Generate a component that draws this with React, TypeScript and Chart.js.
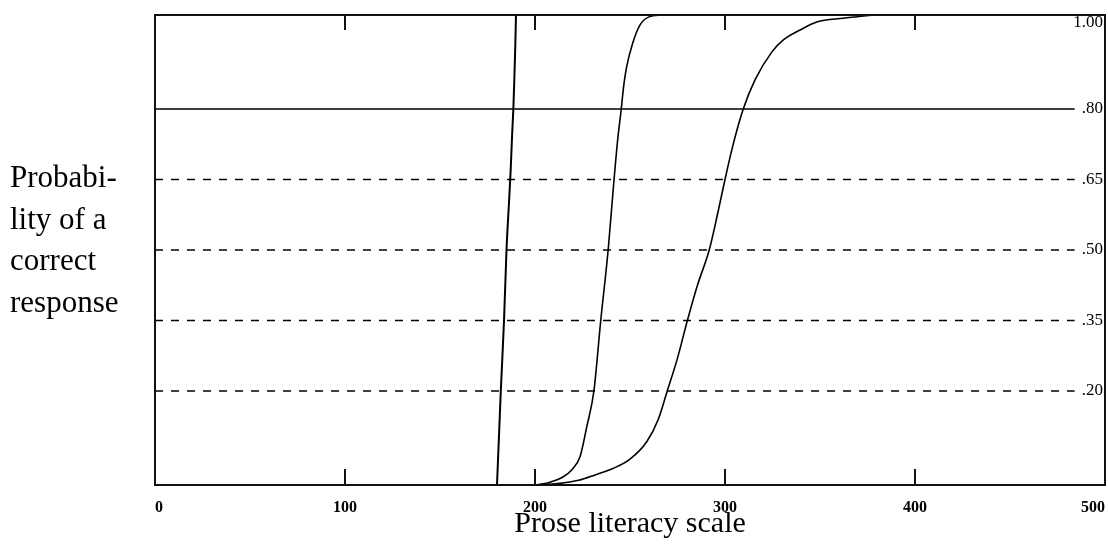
import React, { useEffect, useRef } from "react";
import { Chart, registerables } from "chart.js";

Chart.register(...registerables);

// ---- data ----
const xTickValues = [0, 100, 200, 300, 400, 500];
const innerTickValues = [100, 200, 300, 400];
const levelValues = [1.0, 0.8, 0.65, 0.5, 0.35, 0.2];
const levelLabels = ["1.00", ".80", ".65", ".50", ".35", ".20"];
const solidLevels = [0.8];
const dashedLevels = [0.65, 0.5, 0.35, 0.2];
const levelLineX = [0, 484];
const yTitleLines = ["Probabi-", "lity of a", "correct", "response"];
const xTitle = "Prose literacy scale";

// Item curves: proficiency scale score vs probability of a correct response
const itemAScale = [180, 180.5, 181.2, 182, 183.7, 185, 186.3, 187.2, 187.9, 188.6, 189.1, 189.6, 190];
const itemAProb = [0, 0.05, 0.12, 0.2, 0.35, 0.5, 0.6, 0.67, 0.74, 0.8, 0.86, 0.93, 1.0];

const itemBScale = [201, 208, 214.7, 219.3, 223.7, 227.2, 231, 234.6, 238.5, 241.6, 243.5, 245.4, 246.5, 248.2, 251.4, 255.3, 260, 267];
const itemBProb = [0, 0.006, 0.017, 0.032, 0.06, 0.123, 0.2, 0.35, 0.5, 0.65, 0.734, 0.8, 0.843, 0.889, 0.94, 0.979, 0.996, 1.0];

const itemCScale = [201, 212, 223, 232, 241, 250, 258.8, 264.9, 269.6, 275, 280.2, 285.5, 291.7, 296, 300, 304, 309.6, 315.8, 324.6, 330.7, 339.5, 348.3, 362.3, 378];
const itemCProb = [0, 0.003, 0.01, 0.022, 0.035, 0.055, 0.092, 0.14, 0.2, 0.27, 0.35, 0.425, 0.5, 0.575, 0.65, 0.72, 0.8, 0.862, 0.921, 0.947, 0.968, 0.985, 0.993, 1.0];

const SERIF = "'Liberation Serif', 'Times New Roman', serif";

function toPoints(xs: number[], ys: number[]) {
  return xs.map((x, i) => ({ x, y: ys[i] }));
}

function levelLine(v: number) {
  return levelLineX.map((x) => ({ x, y: v }));
}

export default function App() {
  const ref = useRef<HTMLCanvasElement>(null);

  useEffect(() => {
    const canvas = ref.current;
    if (!canvas) return;

    const framePlugin = {
      id: "frame",
      afterDatasetsDraw(chart: any) {
        const { ctx, chartArea: a, scales } = chart;
        const xs = scales.x;
        const ys = scales.y;
        ctx.save();
        ctx.strokeStyle = "#111";
        ctx.lineWidth = 2;
        ctx.strokeRect(a.left, a.top, a.right - a.left, a.bottom - a.top);
        ctx.beginPath();
        for (const v of innerTickValues) {
          const px = Math.round(xs.getPixelForValue(v));
          ctx.moveTo(px, a.top);
          ctx.lineTo(px, a.top + 15);
          ctx.moveTo(px, a.bottom);
          ctx.lineTo(px, a.bottom - 16);
        }
        ctx.stroke();

        ctx.fillStyle = "#000";
        ctx.font = `17px ${SERIF}`;
        ctx.textAlign = "right";
        ctx.textBaseline = "middle";
        levelValues.forEach((v, i) => {
          const py = Math.max(ys.getPixelForValue(v), a.top + 8);
          ctx.fillText(levelLabels[i], a.right - 2, py);
        });

        ctx.font = `31px ${SERIF}`;
        ctx.textAlign = "left";
        ctx.textBaseline = "alphabetic";
        yTitleLines.forEach((t, i) => ctx.fillText(t, 10, 187 + i * 41.7));
        ctx.restore();
      },
    };

    const datasets: any[] = [];
    solidLevels.forEach((v) =>
      datasets.push({
        data: levelLine(v),
        borderColor: "#000",
        borderWidth: 1.5,
        pointRadius: 0,
        showLine: true,
        order: 5,
      })
    );
    dashedLevels.forEach((v) =>
      datasets.push({
        data: levelLine(v),
        borderColor: "#000",
        borderWidth: 1.5,
        borderDash: [8, 8],
        pointRadius: 0,
        showLine: true,
        order: 5,
      })
    );
    datasets.push({
      data: toPoints(itemAScale, itemAProb),
      borderColor: "#000",
      borderWidth: 2,
      pointRadius: 0,
      showLine: true,
      cubicInterpolationMode: "monotone",
      order: 1,
    });
    datasets.push({
      data: toPoints(itemBScale, itemBProb),
      borderColor: "#000",
      borderWidth: 1.6,
      pointRadius: 0,
      showLine: true,
      cubicInterpolationMode: "monotone",
      order: 1,
    });
    datasets.push({
      data: toPoints(itemCScale, itemCProb),
      borderColor: "#000",
      borderWidth: 1.6,
      pointRadius: 0,
      showLine: true,
      cubicInterpolationMode: "monotone",
      order: 1,
    });

    const chart = new Chart(canvas, {
      type: "scatter",
      data: { datasets },
      options: {
        animation: false,
        responsive: false,
        events: [],
        layout: { padding: { left: 155, right: 3, top: 15, bottom: 0 } },
        plugins: {
          legend: { display: false },
          tooltip: { enabled: false },
        },
        scales: {
          x: {
            type: "linear",
            min: 0,
            max: 500,
            grid: { display: false, drawTicks: false },
            border: { display: false },
            afterBuildTicks: (s: any) => {
              s.ticks = xTickValues.map((value) => ({ value }));
            },
            afterFit: (s: any) => {
              s.paddingLeft = 0;
              s.paddingRight = 0;
              s.height = 61;
            },
            ticks: {
              align: "inner",
              padding: 13,
              color: "#000",
              maxRotation: 0,
              autoSkip: false,
              font: { family: SERIF, size: 16, weight: "bold" },
            },
            title: {
              display: true,
              text: xTitle,
              color: "#000",
              font: { family: SERIF, size: 30, lineHeight: 0.45 },
              padding: { top: 0, bottom: 15 },
            },
          },
          y: {
            type: "linear",
            min: 0,
            max: 1,
            display: false,
          },
        },
      } as any,
      plugins: [framePlugin],
    });

    return () => chart.destroy();
  }, []);

  return (
    <div
      style={{
        position: "fixed",
        left: 0,
        top: 0,
        width: 1108,
        height: 546,
        background: "#fff",
      }}
    >
      <canvas ref={ref} width={1108} height={546} style={{ display: "block" }} />
    </div>
  );
}
